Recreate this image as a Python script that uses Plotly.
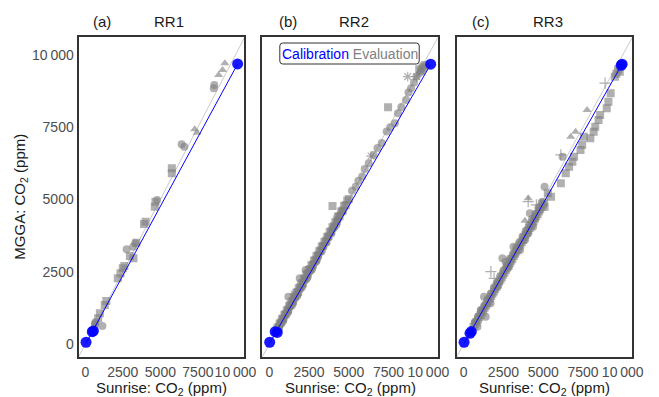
import numpy as np
import plotly.graph_objects as go

# ---------------- data (ppm) ----------------
panels = ["RR1", "RR2", "RR3"]
letters = ["(a)", "(b)", "(c)"]
tick_vals = [0, 2500, 5000, 7500, 10000]
tick_text = ["0", "2500", "5000", "7500", "10\u2009000"]

# calibration points (Sunrise vs MGGA)
cal_rr1_x = [50, 465, 540, 10144]
cal_rr1_y = [60, 425, 450, 9689]
cal_rr2_x = [25, 370, 500, 10148]
cal_rr2_y = [60, 425, 400, 9678]
cal_rr3_x = [25, 395, 480, 9963, 9900]
cal_rr3_y = [60, 370, 430, 9678, 9640]

# evaluation points, RR1
ev_rr1_circ_x = [8594, 8555, 6416, 6593, 4781, 3322, 3191, 2753, 1138, 641, 641, 700]
ev_rr1_circ_y = [8962, 8848, 6910, 6827, 4983, 3484, 3367, 3277, 623, 716, 650, 760]
ev_rr1_sq_x = [5762, 5762, 4670, 4630, 4016, 3911, 2969, 2492, 2341, 2165, 1400, 1295, 968, 857, 3211, 3400, 2600]
ev_rr1_sq_y = [6080, 5907, 4924, 4751, 4232, 4152, 3045, 2619, 2446, 2273, 1488, 1349, 1062, 889, 2965, 3500, 2700]
ev_rr1_tri_x = [9294, 9143, 8881, 7287, 7443]
ev_rr1_tri_y = [9713, 9481, 9308, 7429, 7311]

# evaluation points, RR2
ev_rr2_sq_x = [470, 520, 600, 650, 720, 800, 860, 950, 1020, 1100, 1180, 1250, 1330, 1400, 1480,
               1560, 1630, 1700, 1790, 1850, 1940, 2010, 2100, 2170, 2250, 2330, 2410, 2490, 2570,
               2650, 2730, 2810, 2900, 2970, 3060, 3140, 3220, 3300, 3390, 3470, 3550, 3640, 3720,
               3800, 3890, 3970, 4060, 4150, 4240, 4330, 4420, 4520, 4610, 4700, 4800, 4900, 5000,
               7469, 3975, 9630, 9425, 9700, 9550, 9800]
ev_rr2_sq_y = [490, 560, 600, 700, 740, 860, 880, 1000, 1040, 1160, 1190, 1310, 1350, 1460, 1500,
               1620, 1650, 1770, 1800, 1930, 1960, 2080, 2110, 2240, 2270, 2400, 2430, 2560, 2590,
               2720, 2740, 2880, 2910, 3040, 3070, 3210, 3230, 3370, 3400, 3530, 3570, 3700, 3730,
               3870, 3900, 4040, 4070, 4210, 4250, 4400, 4430, 4580, 4620, 4770, 4810, 4960, 5020,
               8190, 4775, 9540, 9505, 9600, 9450, 9650]
ev_rr2_circ_x = [600, 900, 1200, 1500, 1800, 2100, 2400, 2700, 3000, 3300, 3600, 3900, 4200,
                 700, 1000, 1300, 1600, 1900, 2200, 2500, 2800, 3100, 3400, 3700, 4000, 4300, 4600,
                 550, 850, 1150, 1450, 1750, 2050, 2350, 2650, 2950,
                 5200, 5430, 5600, 5840, 6000, 6250, 6560, 6800, 7070, 7380, 7600, 7900, 8090,
                 8300, 8600, 8750, 8910, 9100, 9260, 9500, 1914, 1198, 2284]
ev_rr2_circ_y = [560, 860, 1150, 1440, 1730, 2030, 2320, 2620, 2920, 3220, 3510, 3820, 4110,
                 700, 990, 1300, 1580, 1880, 2190, 2480, 2780, 3090, 3390, 3680, 3990, 4290, 4580,
                 470, 770, 1070, 1360, 1660, 1960, 2260, 2560, 2850,
                 5300, 5440, 5650, 5790, 6050, 6250, 6540, 6780, 6950, 7350, 7500, 7640, 7980,
                 8200, 8440, 8700, 8850, 9050, 9250, 9400, 2273, 1637, 2560]
ev_rr2_star_x = [8704, 9259, 6400, 4300, 1560]
ev_rr2_star_y = [9249, 9249, 6500, 4420, 1720]

# evaluation points, RR3
ev_rr3_sq_x = [620, 720, 820, 900, 980, 1060, 1150, 1230, 1310, 1400, 1480, 1560, 1650, 1730,
               1810, 1900, 1980, 2060, 2150, 2230, 2310, 2400, 2480, 2560, 2650, 2730, 2810, 2900,
               2980, 3060, 3150, 3230, 3310, 3400, 3480, 3560, 3650, 3730, 3810, 3900, 3980, 4060,
               4150, 4230, 4310, 4400, 4480, 4560, 4650, 4730, 4810, 4900, 4980, 5060,
               9506, 9815, 9700, 9600, 9241, 9099, 8994, 8580, 8481, 8272, 8173, 7963, 7556,
               7451, 7346, 6938, 6833, 6630, 6420, 6111, 5290, 5494, 5086]
ev_rr3_sq_y = [600, 680, 760, 850, 930, 1000, 1080, 1160, 1250, 1330, 1410, 1490, 1570, 1660,
               1740, 1820, 1900, 1990, 2060, 2150, 2230, 2310, 2400, 2470, 2560, 2640, 2710, 2800,
               2880, 2950, 3040, 3120, 3200, 3280, 3370, 3440, 3520, 3610, 3690, 3770, 3850, 3930,
               4010, 4100, 4180, 4250, 4340, 4420, 4500, 4590, 4660, 4740, 4830, 4900,
               9249, 9422, 9500, 9350, 8675, 8384, 8155, 7924, 7751, 7519, 7346, 7118, 7173,
               6886, 6713, 6481, 6308, 6135, 5907, 5561, 5214, 5097, 4751]
ev_rr3_circ_x = [700, 900, 1100, 1300, 1500, 1700, 1900, 2100, 2300, 2500, 2700, 2900, 3100,
                 3300, 3500, 3700, 3900, 4100, 4300, 4500, 4700, 4900, 6216, 5086, 4160, 4469,
                 4364, 4056, 3852, 3130, 3543, 2432, 2636, 2840, 2222, 2123, 1278, 1691, 1074,
                 1383, 765, 864]
ev_rr3_circ_y = [760, 950, 1150, 1330, 1550, 1740, 1950, 2130, 2350, 2540, 2730, 2950, 3120,
                 3330, 3520, 3720, 3920, 4110, 4320, 4500, 4720, 4900, 6481, 5443, 4521, 4348,
                 4059, 3830, 3599, 3367, 3253, 2965, 2848, 2675, 2156, 1983, 1637, 1408, 1176,
                 945, 772, 599]
ev_rr3_tri_x = [7759, 7037, 3852, 6728, 4056]
ev_rr3_tri_y = [8097, 7346, 4267, 7173, 5042]
ev_rr3_star_x = [8889, 6111, 4056, 4568, 1710, 1914]
ev_rr3_star_y = [9021, 6540, 4925, 4810, 2502, 2273]

axis_range_x = [-450, 10600]
axis_range_y = [-450, 10620]

# ---------------- layout helpers ----------------
W, H = 659, 397
panel_px = [(80, 249), (267, 446), (465, 644)]
top_px, bottom_px = 37, 357


def px(x):
    return x / W


def py(y):
    return 1 - y / H


BLUE = "#0000FF"
GREY = "rgba(128,128,128,0.62)"
TICK_COLOR = "#4D4D4D"
FONT = "Liberation Sans"

cal = [(cal_rr1_x, cal_rr1_y), (cal_rr2_x, cal_rr2_y), (cal_rr3_x, cal_rr3_y)]
evals = [
    [(ev_rr1_circ_x, ev_rr1_circ_y, "circle"), (ev_rr1_sq_x, ev_rr1_sq_y, "square"),
     (ev_rr1_tri_x, ev_rr1_tri_y, "triangle-up")],
    [(ev_rr2_sq_x, ev_rr2_sq_y, "square"), (ev_rr2_circ_x, ev_rr2_circ_y, "circle"),
     (ev_rr2_star_x, ev_rr2_star_y, "asterisk-open")],
    [(ev_rr3_sq_x, ev_rr3_sq_y, "square"), (ev_rr3_circ_x, ev_rr3_circ_y, "circle"),
     (ev_rr3_tri_x, ev_rr3_tri_y, "triangle-up"), (ev_rr3_star_x, ev_rr3_star_y, "cross-thin-open")],
]

fig = go.Figure()

for i in range(3):
    xa = "x" if i == 0 else f"x{i + 1}"
    ya = "y" if i == 0 else f"y{i + 1}"

    # 1:1 reference line
    fig.add_trace(go.Scatter(x=axis_range_x, y=axis_range_x, mode="lines",
                             line=dict(color="#BDBDBD", width=0.8),
                             xaxis=xa, yaxis=ya, showlegend=False, hoverinfo="skip"))

    # evaluation points
    for ex, ey, sym in evals[i]:
        open_sym = sym.endswith("open")
        fig.add_trace(go.Scatter(
            x=ex, y=ey, mode="markers", xaxis=xa, yaxis=ya, showlegend=False,
            marker=dict(symbol=sym, size=8, color=GREY,
                        line=dict(width=1.2 if open_sym else 0, color=GREY))))

    # calibration points and linear fit
    cx, cy = cal[i]
    slope, intercept = np.polyfit(cx, cy, 1)
    lx = np.array([min(cx), max(cx)])
    fig.add_trace(go.Scatter(x=lx, y=slope * lx + intercept, mode="lines",
                             line=dict(color=BLUE, width=1),
                             xaxis=xa, yaxis=ya, showlegend=False))
    fig.add_trace(go.Scatter(x=cx, y=cy, mode="markers", xaxis=xa, yaxis=ya, showlegend=False,
                             marker=dict(symbol="circle", size=11, color="rgba(0,0,255,0.9)",
                                         line=dict(width=0))))

layout = dict(width=W, height=H, margin=dict(l=0, r=0, t=0, b=0),
              paper_bgcolor="white", plot_bgcolor="white",
              font=dict(family=FONT, size=14, color="#1A1A1A"))

for i, (x0, x1) in enumerate(panel_px):
    key = "" if i == 0 else str(i + 1)
    layout["xaxis" + key] = dict(
        domain=[px(x0), px(x1)], range=axis_range_x, anchor="y" + key,
        tickvals=tick_vals, ticktext=tick_text, tickangle=0,
        tickfont=dict(size=14, color=TICK_COLOR, family=FONT), ticks="",
        ticklabelstandoff=1, showgrid=False, zeroline=False,
        showline=True, mirror=True, linecolor="#333333", linewidth=2)
    layout["yaxis" + key] = dict(
        domain=[py(bottom_px), py(top_px)], range=axis_range_y, anchor="x" + key,
        tickvals=tick_vals, ticktext=tick_text, showticklabels=(i == 0),
        tickfont=dict(size=14, color=TICK_COLOR, family=FONT), ticks="",
        ticklabelstandoff=0, showgrid=False, zeroline=False,
        showline=True, mirror=True, linecolor="#333333", linewidth=2)

fig.update_layout(**layout)

annotations = []
letter_px = [104, 293, 490]
name_px = [172, 361, 558]
for i in range(3):
    annotations.append(dict(x=px(letter_px[i]), y=py(22), xref="paper", yref="paper",
                            text=letters[i], showarrow=False, xanchor="center", yanchor="middle",
                            font=dict(size=15, color="#1A1A1A")))
    annotations.append(dict(x=px(name_px[i]), y=py(22), xref="paper", yref="paper",
                            text=panels[i], showarrow=False, xanchor="center", yanchor="middle",
                            font=dict(size=15, color="#1A1A1A")))
    x0, x1 = panel_px[i]
    annotations.append(dict(x=px((x0 + x1) / 2), y=py(388), xref="paper", yref="paper",
                            text="Sunrise: CO<sub>2</sub> (ppm)", showarrow=False,
                            xanchor="center", yanchor="middle",
                            font=dict(size=15, color="#1A1A1A")))

annotations.append(dict(x=px(20), y=py(197), xref="paper", yref="paper",
                        text="MGGA: CO<sub>2</sub> (ppm)", showarrow=False, textangle=-90,
                        xanchor="center", yanchor="middle", font=dict(size=15, color="#1A1A1A")))

# legend key inside RR2
annotations.append(dict(x=px(356.5), y=py(53.5), xref="paper", yref="paper",
                        text="<span style='color:#0000FF'>Calibration</span> "
                             "<span style='color:#808080'>Evaluation</span>",
                        showarrow=False, xanchor="center", yanchor="middle",
                        font=dict(size=14)))

# rounded legend frame
lx0, lx1, ly0, ly1, r = 285, 427, 43, 64, 3
path = (f"M {px(lx0 + r)} {py(ly0)} L {px(lx1 - r)} {py(ly0)} "
        f"Q {px(lx1)} {py(ly0)} {px(lx1)} {py(ly0 + r)} L {px(lx1)} {py(ly1 - r)} "
        f"Q {px(lx1)} {py(ly1)} {px(lx1 - r)} {py(ly1)} L {px(lx0 + r)} {py(ly1)} "
        f"Q {px(lx0)} {py(ly1)} {px(lx0)} {py(ly1 - r)} L {px(lx0)} {py(ly0 + r)} "
        f"Q {px(lx0)} {py(ly0)} {px(lx0 + r)} {py(ly0)} Z")
fig.update_layout(annotations=annotations,
                  shapes=[dict(type="path", path=path, xref="paper", yref="paper",
                               line=dict(color="#333333", width=1), fillcolor="white")])

fig.write_html("out.html")
